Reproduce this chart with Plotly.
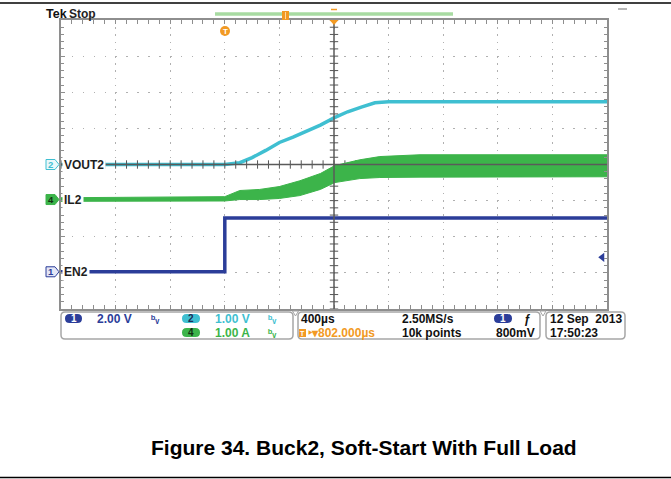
import numpy as np
import plotly.graph_objects as go

# ---- acquisition setup -------------------------------------------------------
TIME_PER_DIV = 400            # µs / div
N_XDIV, N_YDIV = 10, 8
T_START = -3 * TIME_PER_DIV   # trigger sits 3 divisions from the left edge
T_END = T_START + N_XDIV * TIME_PER_DIV

# ---- waveforms -------------------------------------------------------------------
# CH2  VOUT2 (V)
vout2_t = [-1200, 0, 110, 200, 300, 400, 500, 600, 700, 800, 900, 1000, 1100, 1200, 2800]
vout2_v = [0.0, 0.0, 0.05, 0.19, 0.39, 0.61, 0.76, 0.92, 1.09, 1.29, 1.46, 1.59, 1.71, 1.74, 1.74]

# CH4  IL2 (A) – ripple envelope
il2_t = [-1200, 0, 110, 256, 400, 550, 700, 806, 989, 1136, 1430, 2800]
il2_hi = [0.05, 0.08, 0.25, 0.28, 0.36, 0.52, 0.72, 0.94, 1.10, 1.19, 1.24, 1.24]
il2_lo = [-0.05, -0.04, 0.0, 0.0, 0.03, 0.11, 0.28, 0.47, 0.58, 0.61, 0.62, 0.63]

# CH1  EN2 (V)
en2_t = [-1200, 0, 0, 2800]
en2_v = [0.0, 0.0, 2.98, 2.98]

TRIG_LEVEL = 0.8  # V on CH1

# vertical scale (units/div) and ground offset (divisions from centre)
ch_scale = {"ch1": 2.0, "ch2": 1.0, "ch4": 1.0}
ch_offset = {"ch1": -2.97, "ch2": 0.0, "ch4": -0.97}

NAVY = "#2b3d99"
CYAN = "#3fbfd1"
GREEN = "#3cb44a"
ORANGE = "#f29a24"
GRID = "#b0b0b0"
FRAME = "#8e8e8e"

W, H = 671, 479
PL, PR, PT, PB = 61, 607, 20, 309


def px(x):
    return (x - PL) / (PR - PL)


def py(y):
    return (PB - y) / (PB - PT)


def ch_range(ch):
    s, o = ch_scale[ch], ch_offset[ch]
    return [(-N_YDIV / 2 - o) * s, (N_YDIV / 2 - o) * s]


def rrect(x0, y0, x1, y1, r):
    pts = [
        ("M", (x0 + r, y0)), ("L", (x1 - r, y0)), ("Q", (x1, y0), (x1, y0 + r)),
        ("L", (x1, y1 - r)), ("Q", (x1, y1), (x1 - r, y1)), ("L", (x0 + r, y1)),
        ("Q", (x0, y1), (x0, y1 - r)), ("L", (x0, y0 + r)), ("Q", (x0, y0), (x0 + r, y0)),
    ]
    out = []
    for cmd, *ps in pts:
        out.append(cmd + " ".join(f"{px(a):.5f},{py(b):.5f}" for a, b in ps))
    return " ".join(out) + " Z"


fig = go.Figure()

# EN2
fig.add_trace(go.Scatter(x=en2_t, y=en2_v, yaxis="y3", mode="lines",
                         line=dict(color=NAVY, width=3.5), hoverinfo="skip"))
# IL2 envelope
fig.add_trace(go.Scatter(x=il2_t, y=il2_lo, yaxis="y2", mode="lines",
                         line=dict(color=GREEN, width=1), hoverinfo="skip"))
fig.add_trace(go.Scatter(x=il2_t, y=il2_hi, yaxis="y2", mode="lines", fill="tonexty",
                         fillcolor=GREEN, line=dict(color=GREEN, width=1), hoverinfo="skip"))
# VOUT2
fig.add_trace(go.Scatter(x=vout2_t, y=vout2_v, yaxis="y", mode="lines",
                         line=dict(color=CYAN, width=3.5), hoverinfo="skip"))

# centre crosshair tick marks
xt = np.arange(T_START, T_END + 1, TIME_PER_DIV / 5)
fig.add_trace(go.Scatter(x=xt, y=np.zeros_like(xt), mode="markers", yaxis="y",
                         marker=dict(symbol="line-ns", size=6, line=dict(width=1, color="#555")),
                         hoverinfo="skip"))
yt = np.arange(-N_YDIV / 2, N_YDIV / 2 + 0.01, 0.2)
xc = T_START + TIME_PER_DIV * N_XDIV / 2
fig.add_trace(go.Scatter(x=np.full_like(yt, xc), y=yt, mode="markers", yaxis="y",
                         marker=dict(symbol="line-ew", size=6, line=dict(width=1, color="#555")),
                         hoverinfo="skip"))

# CH1 trigger level indicator
fig.add_trace(go.Scatter(x=[T_END - 35], y=[TRIG_LEVEL], yaxis="y3", mode="markers",
                         marker=dict(symbol="triangle-left", size=8, color=NAVY),
                         cliponaxis=False, hoverinfo="skip"))

shapes = []
# centre lines
shapes.append(dict(type="line", xref="x", yref="paper", x0=xc, x1=xc, y0=0, y1=1,
                   line=dict(color="#5a5a5a", width=1.5), layer="above"))
shapes.append(dict(type="line", xref="paper", yref="y", x0=0, x1=1, y0=0, y1=0,
                   line=dict(color="#5a5a5a", width=1.5), layer="above"))

# page rules
for yy in (3, 477.5):
    shapes.append(dict(type="line", xref="paper", yref="paper", x0=px(0), x1=px(W),
                       y0=py(yy), y1=py(yy), line=dict(color="black", width=1.6)))
shapes.append(dict(type="line", xref="paper", yref="paper", x0=px(618), x1=px(627),
                   y0=py(9), y1=py(9), line=dict(color="#888", width=1.2)))

# record view bar
shapes.append(dict(type="line", xref="paper", yref="paper", x0=px(215), x1=px(453),
                   y0=py(14), y1=py(14), line=dict(color="#a8dba2", width=3.5)))
shapes.append(dict(type="rect", xref="paper", yref="paper", x0=px(282), x1=px(289),
                   y0=py(11), y1=py(20), fillcolor=ORANGE, line=dict(width=0)))
shapes.append(dict(type="line", xref="paper", yref="paper", x0=px(285.5), x1=px(285.5),
                   y0=py(12), y1=py(19), line=dict(color="#fcd9a0", width=1)))
# horizontal position markers
shapes.append(dict(type="line", xref="paper", yref="paper", x0=px(331), x1=px(337),
                   y0=py(9.5), y1=py(9.5), line=dict(color=ORANGE, width=1.5)))
shapes.append(dict(type="path", xref="paper", yref="paper",
                   path=f"M{px(329.5)},{py(20)} L{px(338.5)},{py(20)} L{px(334)},{py(25)} Z",
                   fillcolor=ORANGE, line=dict(width=0)))
# trigger position badge
shapes.append(dict(type="circle", xref="paper", yref="paper", x0=px(220), x1=px(230),
                   y0=py(26), y1=py(36), fillcolor=ORANGE, line=dict(width=0)))

# info bar boxes
for (x0, x1) in ((61, 293), (298, 540), (546, 625)):
    shapes.append(dict(type="path", xref="paper", yref="paper",
                       path=rrect(x0, 312, x1, 339, 4), fillcolor="white",
                       line=dict(color="#a6a6a6", width=1.5)))
for xn in (295.5, 543):
    shapes.append(dict(type="path", xref="paper", yref="paper",
                       path=f"M{px(xn - 3)},{py(311)} L{px(xn + 3)},{py(311)} L{px(xn)},{py(316)} Z",
                       fillcolor="white", line=dict(color="#a6a6a6", width=1)))

# channel pills
pills = [(65, 82, 318.5, NAVY, "1", "white"), (182, 200, 318.5, CYAN, "2", "#1d2a55"),
         (182, 200, 332.5, GREEN, "4", "#123012"), (494, 512, 318.5, NAVY, "1", "white")]
annotations = []
for x0, x1, yc, col, label, tcol in pills:
    shapes.append(dict(type="path", xref="paper", yref="paper",
                       path=rrect(x0, yc - 4.5, x1, yc + 4.5, 4.5), fillcolor=col,
                       line=dict(width=0)))
    annotations.append(dict(x=px((x0 + x1) / 2), y=py(yc), xref="paper", yref="paper",
                            text=f"<b>{label}</b>", showarrow=False, xanchor="center",
                            yanchor="middle", font=dict(family="Arial", size=10, color=tcol)))

# channel ground labels
ch_labels = [("y", "2", "VOUT2", CYAN, "#eaf8fa", CYAN), ("y2", "4", "IL2", GREEN, GREEN, "#123012"),
             ("y3", "1", "EN2", NAVY, "#e4e6f6", NAVY)]
for yref, num, name, edge, fill, dcol in ch_labels:
    shapes.append(dict(type="path", xref="paper", xsizemode="pixel", xanchor=px(46),
                       yref=yref, ysizemode="pixel", yanchor=0,
                       path="M0,-5 L9,-5 L13,0 L9,5 L0,5 Z", fillcolor=fill,
                       line=dict(color=edge, width=1)))
    annotations.append(dict(x=px(50.5), y=0, xref="paper", yref=yref, text=f"<b>{num}</b>",
                            showarrow=False, xanchor="center", yanchor="middle",
                            font=dict(family="Arial", size=9.5, color=dcol)))
    annotations.append(dict(x=px(61.5), y=0, xref="paper", yref=yref, text=f"<b>{name}</b>",
                            showarrow=False, xanchor="left", yanchor="middle", bgcolor="white",
                            borderpad=1, font=dict(family="Arial", size=12, color="#1e1e1e")))


def txt(x, y, s, color="#111", size=12, anchor="left", bold=True, family="Arial"):
    annotations.append(dict(x=px(x), y=py(y), xref="paper", yref="paper",
                            text=f"<b>{s}</b>" if bold else s, showarrow=False,
                            xanchor=anchor, yanchor="middle",
                            font=dict(family=family, size=size, color=color)))


txt(44, 14, "Tek", "#111", 12.5)
txt(67, 14, "Stop", "#222", 12)
txt(225, 31, "T", "white", 8, "center")

txt(95, 318.5, "2.00 V", NAVY, 12)
txt(149, 318.5, "ᵇᵥ", NAVY, 11)
txt(213, 318.5, "1.00 V", CYAN, 12)
txt(266, 318.5, "ᵇᵥ", CYAN, 11)
txt(213, 332.5, "1.00 A", GREEN, 12)
txt(266, 332.5, "ᵇᵥ", GREEN, 11)

txt(299, 318.5, "400µs", "#111", 12)
shapes.append(dict(type="rect", xref="paper", yref="paper", x0=px(299), x1=px(306),
                   y0=py(329), y1=py(337), fillcolor=ORANGE, line=dict(width=0)))
txt(302.5, 333, "T", "white", 7, "center")
txt(306, 332.5, "‣▾802.000µs", ORANGE, 12)
txt(400, 318.5, "2.50MS/s", "#111", 12)
txt(400, 332.5, "10k points", "#111", 12)
txt(522, 318.5, "ƒ", "#111", 12)
txt(494, 332.5, "800mV", "#111", 12)
txt(548, 318.5, "12 Sep  2013", "#111", 12)
txt(548, 332.5, "17:50:23", "#111", 12)

txt(364, 447, "Figure 34. Buck2, Soft-Start With Full Load", "black", 21, "center")

axis_common = dict(showticklabels=False, zeroline=False, showline=True, linecolor=FRAME,
                   linewidth=1.5, mirror="allticks", ticks="inside", ticklen=4,
                   tickcolor=FRAME, tickwidth=1, showgrid=True, gridcolor=GRID, gridwidth=1)

fig.update_layout(
    width=W, height=H,
    margin=dict(l=PL, r=W - PR, t=PT, b=H - PB, pad=0),
    paper_bgcolor="white", plot_bgcolor="white", showlegend=False,
    xaxis=dict(range=[T_START, T_END], tick0=0, dtick=TIME_PER_DIV,
               griddash="1.5px,5.7px",
               minor=dict(dtick=TIME_PER_DIV / 5, tick0=0, ticks="inside", ticklen=3,
                          tickcolor=FRAME, showgrid=False),
               **axis_common),
    yaxis=dict(range=ch_range("ch2"), tick0=0, dtick=ch_scale["ch2"],
               griddash="1.5px,9.4px",
               minor=dict(dtick=ch_scale["ch2"] / 5, tick0=0, ticks="inside", ticklen=3,
                          tickcolor=FRAME, showgrid=False),
               **axis_common),
    yaxis2=dict(range=ch_range("ch4"), overlaying="y", visible=False),
    yaxis3=dict(range=ch_range("ch1"), overlaying="y", visible=False),
    shapes=shapes,
    annotations=annotations,
)

fig.write_html("out.html")
